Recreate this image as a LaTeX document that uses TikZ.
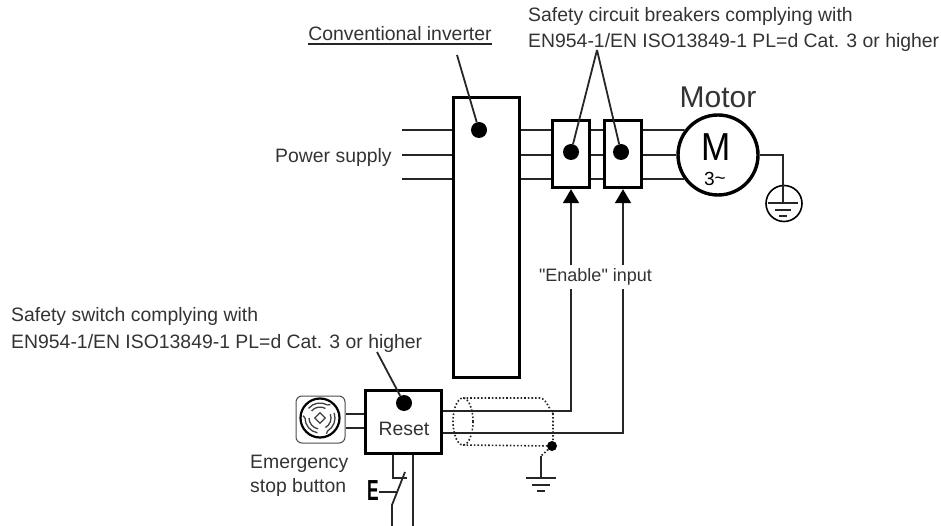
\documentclass[tikz,border=0pt]{standalone}
\usepackage{fontspec}
\setmainfont{Liberation Sans}[Ligatures=TeXOff]
\usetikzlibrary{arrows.meta,calc,shapes.geometric}
\tikzset{
  heavybox/.style={draw,line width=3.4pt,fill=white,inner sep=0pt},
  blackdot/.style={circle,fill,inner sep=0pt,minimum size=16pt},
  thinwire/.style={line width=1.8pt,black!85},
  labeltext/.style={font=\fontsize{19.4}{26.5}\selectfont,text=black!80,align=left,inner sep=0pt},
  shieldline/.style={line width=1.6pt,dotted,black!85},
  upinput/.style={thinwire,-{Stealth[length=14pt,width=16pt,inset=0pt,black]}},
}
\begin{document}
\begin{tikzpicture}[x=1pt,y=-1pt]
  \useasboundingbox (0,0) rectangle (941,526);

  % MAIN BOXES
  \node[heavybox,minimum width=66pt,minimum height=280pt] (invbox) at (486.5,237.5) {};
  \node[heavybox,minimum width=37pt,minimum height=67pt] (brkA) at (571,154) {};
  \node[heavybox,minimum width=37pt,minimum height=67pt] (brkB) at (623,154) {};
  \node[heavybox,minimum width=76pt,minimum height=63pt] (resetbox) at (403.5,422) {};
  \node[labeltext] (resettext) at (404,429) {Reset};

  % Motor
  \node[circle,draw,line width=3.4pt,fill=white,inner sep=0pt,minimum size=80pt] (motor) at (718,155) {};
  \node[labeltext,font=\fontsize{30}{30}\selectfont] (motortext) at (718,97) {Motor};
  \node[labeltext,font=\fontsize{39}{39}\selectfont,text=black,xscale=.9] (mtext) at (716,147) {M};
  \node[labeltext,font=\fontsize{19}{19}\selectfont,text=black] (threetext) at (715,179) {3\raisebox{1pt}{\char126}};

  % LABELS
  \node[labeltext,anchor=west] (powertext) at (275,157) {Power supply};
  \node[labeltext] (invtext) at (400,34) {Conventional inverter};
  \node[labeltext,anchor=west] (brktext) at (528,29.5) {Safety circuit breakers complying with\\EN954-1/EN ISO13849-1 PL=d Cat. 3 or higher};
  \node[labeltext,anchor=west] (switchtext) at (11,330) {Safety switch complying with\\EN954-1/EN ISO13849-1 PL=d Cat. 3 or higher};
  \node[labeltext,anchor=west,font=\fontsize{19.4}{24}\selectfont] (stoptext) at (250,476) {Emergency\\stop button};
  \node[labeltext,font=\fontsize{18}{22}\selectfont,fill=white,inner sep=3pt] (enable) at (595.5,277) {"Enable" input};
  \draw[thinwire] (invtext.south west) ++(0,3) coordinate (ulineA) -- (ulineA -| invtext.south east);

  % Three phases
  \coordinate (phaseend) at (402,0);
  \foreach \y/\ang in {130/143, 155/180, 179/215.3} {
    \draw[thinwire] (phaseend |- 0,\y) -- (invbox.west |- 0,\y);
    \draw[thinwire] (invbox.east |- 0,\y) -- (brkA.west |- 0,\y);
    \draw[thinwire] (brkA.east |- 0,\y) -- (brkB.west |- 0,\y);
    \draw[thinwire] (brkB.east |- 0,\y) -- (motor.\ang);
  }

  % DOTS AND LEADERS
  \node[blackdot] (invdot) at (479,130) {};
  \node[blackdot] (brkAdot) at (571,152) {};
  \node[blackdot] (brkBdot) at (621,152) {};
  \node[blackdot] (resetdot) at (404,403) {};
  \coordinate (invtip) at (457,55);
  \coordinate (brktip) at (597,50);
  \coordinate (switchtip) at (377,352);
  \draw[thinwire] (invtip) -- (invdot);
  \draw[thinwire] (brktip) -- (brkAdot);
  \draw[thinwire] (brktip) -- (brkBdot);
  \draw[thinwire] (switchtip) -- (resetdot);

  % Motor earth
  \coordinate (earthA) at (783,155);
  \coordinate (earthB) at (783,203);
  \node[circle,draw,line width=1.6pt,inner sep=0pt,minimum size=36pt] (earthring) at (784,203.5) {};
  \draw[thinwire] (motor.east) -- (earthA) -- (earthB);
  \foreach \dy/\hw in {0/15, 7/8, 13/4} {
    \draw[thinwire] ($(earthB)+(-\hw,\dy)$) -- ($(earthB)+(\hw,\dy)$);
  }

  % "ENABLE" WIRES
  \coordinate (wireA) at (brkA.south |- 0,411);
  \coordinate (wireB) at (brkB.south |- 0,433);
  \draw[upinput] (brkA.south |- enable.north) -- (brkA.south);
  \draw[upinput] (brkB.south |- enable.north) -- (brkB.south);
  \draw[thinwire] (resetbox.east |- wireA) -- (wireA) -- (brkA.south |- enable.south);
  \draw[thinwire] (resetbox.east |- wireB) -- (wireB) -- (brkB.south |- enable.south);

  % Shield
  \node[circle,fill,inner sep=0pt,minimum size=10pt] (shielddot) at (552,446) {};
  \draw[shieldline] (463,398) -- (540,398) to[out=0,in=-90] (553,412) -- (553,440);
  \draw[shieldline] (463,445) -- (shielddot);
  \draw[shieldline] (463,421.5) ellipse (10 and 23.5);
  \coordinate (shieldA) at (541,456);
  \coordinate (shieldB) at (541,478);
  \draw[shieldline] (shielddot) -- (shieldA);
  \draw[thinwire] (shieldA) -- (shieldB);
  \foreach \dy/\hw in {0/15, 7/9, 13/4} {
    \draw[thinwire] ($(shieldB)+(-\hw,\dy)$) -- ($(shieldB)+(\hw,\dy)$);
  }

  % STOP BUTTON
  \node[draw,rounded corners=6pt,line width=1pt,black!70,minimum width=49pt,minimum height=47pt,inner sep=0pt] (button) at (320.5,419.5) {};
  \node[circle,draw,line width=2.2pt,inner sep=0pt,minimum size=39pt] (buttonface) at (320,418) {};
  \foreach \ang in {20, 140, 260} {
    \draw[line width=1.3pt,black!75] (buttonface.center) ++(\ang-40:15) arc[start angle=\ang-40,end angle=\ang+40,radius=15];
    \draw[line width=1.3pt,black!75] (buttonface.center) ++(\ang-40:11) arc[start angle=\ang-40,end angle=\ang+40,radius=11];
    \draw[line width=1.3pt,black!75] (buttonface.center) ++(\ang+40:15) -- ++(\ang+90:3);
  }
  \node[diamond,draw,line width=1.3pt,black!75,inner sep=0pt,minimum size=11pt] (buttoncore) at (320,418) {};
  \foreach \y in {414,428} {
    \draw[thinwire] (button.east |- 0,\y) -- (resetbox.west |- 0,\y);
  }

  % Reset contact
  \node[labeltext,font=\bfseries\fontsize{29}{30}\selectfont,text=black,xscale=.6] (etext) at (373,491) {E};
  \coordinate (contactA) at (393,478);
  \coordinate (contactB) at (407,478);
  \coordinate (contactC) at (405,472);
  \coordinate (contactD) at (392,505);
  \coordinate (contactE) at (392,526);
  \coordinate (rightend) at (413,526);
  \draw[thinwire] (resetbox.south -| contactA) -- (contactA) -- (contactB);
  \draw[thinwire] (contactC) -- (contactD) -- (contactE);
  \draw[thinwire] (etext.east |- 0,492) -- (398,492);
  \draw[thinwire] (resetbox.south -| rightend) -- (rightend);
\end{tikzpicture}
\end{document}
